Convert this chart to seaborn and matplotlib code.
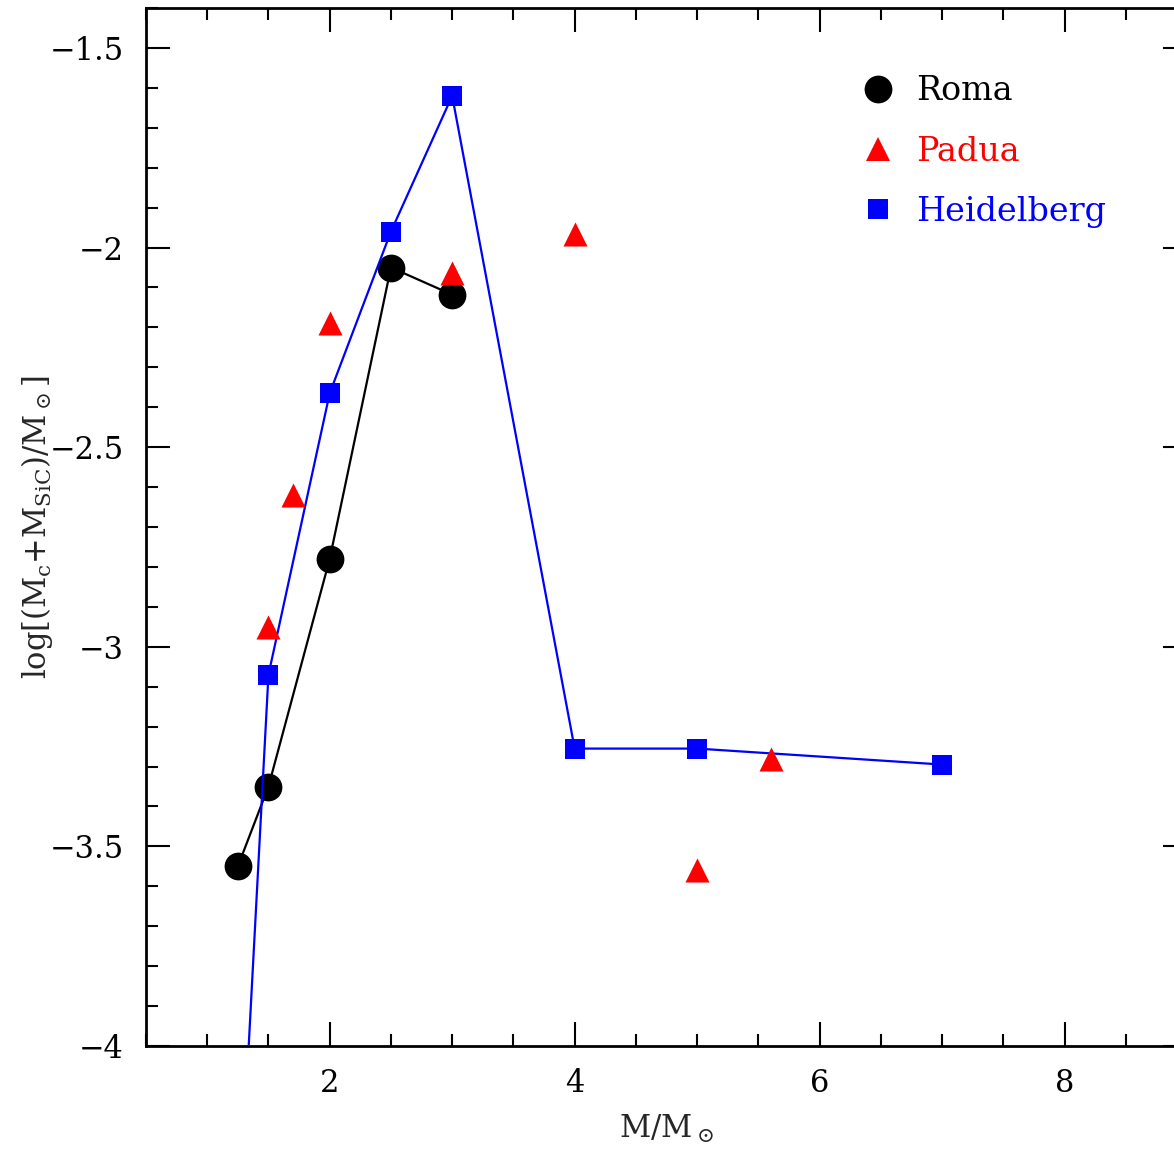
import numpy as np
import pandas as pd
import matplotlib
matplotlib.use("Agg")
import matplotlib.pyplot as plt
from matplotlib.lines import Line2D
from matplotlib.ticker import MultipleLocator
import seaborn as sns

# ---- data ----
roma_mass = [1.25, 1.5, 2.0, 2.5, 3.0]
roma_val = [-3.55, -3.35, -2.78, -2.05, -2.118]

padua_mass = [1.5, 1.7, 2.0, 3.0, 4.0, 5.0, 5.6]
padua_val = [-2.95, -2.62, -2.19, -2.065, -1.965, -3.56, -3.28]

heid_mass = [1.25, 1.5, 2.0, 2.5, 3.0, 4.0, 5.0, 7.0]
heid_val = [-4.51, -3.07, -2.365, -1.96, -1.62, -3.255, -3.255, -3.295]

series_names = ["Roma", "Padua", "Heidelberg"]
series_colors = ["black", "red", "blue"]

roma = pd.DataFrame({"M": roma_mass, "v": roma_val})
padua = pd.DataFrame({"M": padua_mass, "v": padua_val})
heid = pd.DataFrame({"M": heid_mass, "v": heid_val})

sns.set_theme(style="ticks")
plt.rcParams["font.family"] = ["DejaVu Serif"]
plt.rcParams["mathtext.fontset"] = "dejavuserif"
plt.rcParams["mathtext.default"] = "regular"

fig = plt.figure(figsize=(11.74, 11.49), dpi=100)
ax = fig.add_axes([146 / 1174, 103 / 1149, 1041 / 1174, 1038 / 1149])

sns.lineplot(data=heid, x="M", y="v", ax=ax, color="blue", lw=1.6,
             marker="s", markersize=14, markeredgewidth=0, sort=False,
             estimator=None, zorder=3)
sns.lineplot(data=roma, x="M", y="v", ax=ax, color="black", lw=1.6,
             marker="o", markersize=20, markeredgewidth=0, sort=False,
             estimator=None, zorder=2)
sns.scatterplot(data=padua, x="M", y="v", ax=ax, color="red", marker="^",
                s=300, linewidth=0, zorder=4)

ax.set_xlim(0.5, 9.0)
ax.set_ylim(-4.0, -1.4)
ax.xaxis.set_major_locator(MultipleLocator(2))
ax.xaxis.set_minor_locator(MultipleLocator(0.5))
ax.yaxis.set_major_locator(MultipleLocator(0.5))
ax.yaxis.set_minor_locator(MultipleLocator(0.1))
ax.yaxis.set_major_formatter(matplotlib.ticker.FuncFormatter(
    lambda v, p: ("\u2212" if v < 0 else "") + (f"{abs(v):g}")))

ax.tick_params(which="both", direction="in", top=True, right=True,
               width=1.5, colors="black", labelsize=22)
ax.tick_params(which="major", length=17, pad=16)
ax.tick_params(which="minor", length=8.5)
for s in ax.spines.values():
    s.set_linewidth(2.0)
    s.set_color("black")

ax.set_xlabel(r"M/M$_\odot$", fontsize=22, labelpad=10)
ax.set_ylabel(r"log[(M$_c$+M$_{SiC}$)/M$_\odot$]", fontsize=22)
ax.yaxis.set_label_coords(-0.087, 0.5)

handles = [
    Line2D([], [], ls="none", marker="o", color="black", markersize=20, markeredgewidth=0),
    Line2D([], [], ls="none", marker="^", color="red", markersize=17, markeredgewidth=0),
    Line2D([], [], ls="none", marker="s", color="blue", markersize=14, markeredgewidth=0),
]
leg = ax.legend(handles, series_names, loc="upper left", frameon=False,
                fontsize=24, labelspacing=0.85, handlelength=1.0,
                handletextpad=0.65, borderpad=0.4,
                bbox_to_anchor=(0.658, 0.964))
for t, c in zip(leg.get_texts(), series_colors):
    t.set_color(c)

fig.savefig("out.png", dpi=100)
